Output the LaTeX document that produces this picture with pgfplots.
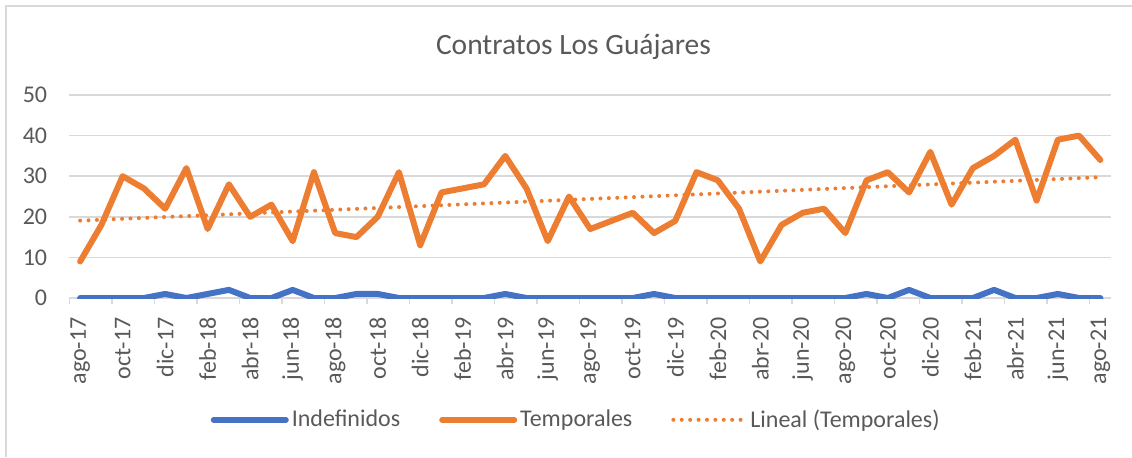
\documentclass[border=0pt]{standalone}
\usepackage{fontspec}
\setmainfont{Carlito}
\usepackage{pgfplots}
\usepackage{pgfplotstable}
\pgfplotsset{compat=1.18}
\definecolor{xlblue}{HTML}{4472C4}
\definecolor{xlorange}{HTML}{ED7D31}
\definecolor{xltext}{HTML}{595959}
\definecolor{xlgrid}{HTML}{D9D9D9}

% monthly values, ago-17 (0) to ago-21 (48)
\pgfplotstableread{
x ind temp
0 0 9
1 0 18
2 0 30
3 0 27
4 1 22
5 0 32
6 1 17
7 2 28
8 0 20
9 0 23
10 2 14
11 0 31
12 0 16
13 1 15
14 1 20
15 0 31
16 0 13
17 0 26
18 0 27
19 0 28
20 1 35
21 0 27
22 0 14
23 0 25
24 0 17
25 0 19
26 0 21
27 1 16
28 0 19
29 0 31
30 0 29
31 0 22
32 0 9
33 0 18
34 0 21
35 0 22
36 0 16
37 1 29
38 0 31
39 2 26
40 0 36
41 0 23
42 0 32
43 2 35
44 0 39
45 0 24
46 1 39
47 0 40
48 0 34
}\contratos

\begin{document}
\begin{tikzpicture}
\path[use as bounding box] (-34.75pt,-79.5pt) rectangle (531.25pt,149pt);
\draw[xlgrid, line width=1pt] (-31.75pt,-79.5pt) -- (-31.75pt,146pt) -- (531.25pt,146pt);
\begin{axis}[
  scale only axis, width=520.75pt, height=101.5pt,
  xmin=-0.5, xmax=48.5, ymin=0, ymax=50,
  axis x line*=bottom, axis y line*=left,
  x axis line style={xlgrid, line width=0.75pt},
  y axis line style={draw=none},
  ytick={0,10,...,50}, ymajorgrids,
  grid style={xlgrid, line width=0.75pt},
  ytick style={draw=none},
  xtick={0,2,...,48},
  xticklabels={ago-17,oct-17,dic-17,feb-18,abr-18,jun-18,ago-18,oct-18,dic-18,feb-19,abr-19,jun-19,ago-19,oct-19,dic-19,feb-20,abr-20,jun-20,ago-20,oct-20,dic-20,feb-21,abr-21,jun-21,ago-21},
  major tick length=0pt,
  minor xtick={-0.5,1.5,...,48.5},
  minor tick length=3pt, tick align=outside,
  minor tick style={xlgrid, line width=0.75pt},
  xticklabel style={rotate=90, anchor=east, inner sep=0pt, xshift=-9.5pt, font=\fontsize{12}{14}\selectfont, text=xltext},
  yticklabel style={anchor=east, inner sep=0pt, xshift=-11pt, font=\fontsize{12}{14}\selectfont, text=xltext},
  /pgf/number format/assume math mode=true,
  legend columns=3,
  legend style={at={(0.487,-0.60)}, anchor=center, draw=none, fill=none,
    font=\fontsize{12}{14}\selectfont, text=xltext,
    nodes={inner sep=1.5pt},
    /tikz/every even column/.append style={column sep=18pt}},
  legend image code/.code={\draw[#1] (0pt,0pt) -- (36pt,0pt);},
  line join=round,
]
\addplot[xlblue, line width=3pt, line cap=round] table[x=x, y=ind] {\contratos};
\addlegendentry{Indefinidos}
\addplot[xlorange, line width=3pt, line cap=round] table[x=x, y=temp] {\contratos};
\addlegendentry{Temporales}
\addplot[xlorange, line width=2pt, line cap=round, dash pattern=on 0pt off 4.2pt] table[x=x, y={create col/linear regression={y=temp}}] {\contratos};
\addlegendentry{Lineal (Temporales)}
\end{axis}
\node[anchor=base, text=xltext, font=\fontsize{14.75}{17}\selectfont] at (252pt,122pt) {Contratos Los Guájares};
\end{tikzpicture}
\end{document}
